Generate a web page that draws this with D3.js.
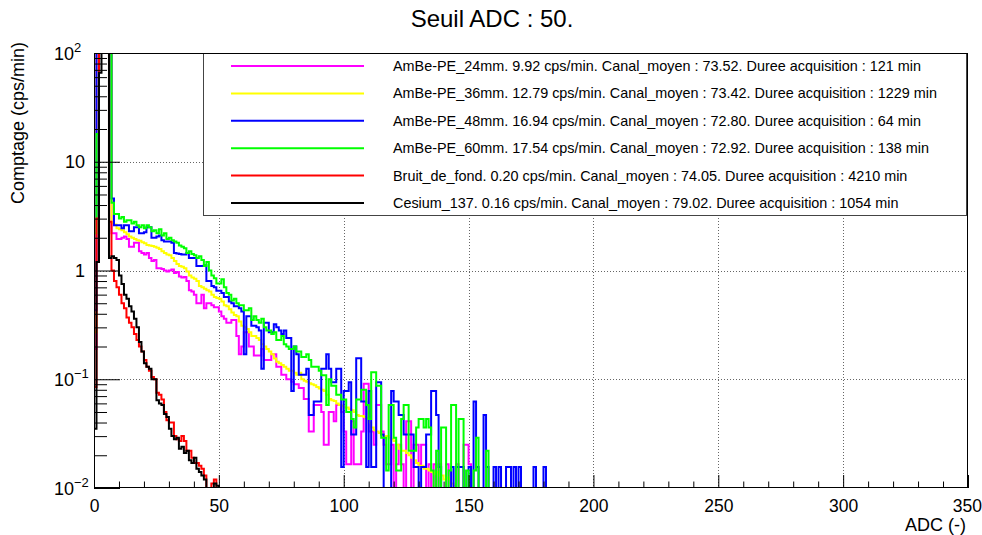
<!DOCTYPE html>
<html><head><meta charset="utf-8">
<script src="https://cdn.jsdelivr.net/npm/d3@7"></script>
<style>
body{margin:0;background:#fff}
svg{display:block}
text{font-family:"Liberation Sans",Arial,Helvetica,sans-serif;fill:#000}
</style>
</head><body>
<svg id="chart" width="982" height="535"></svg>
<script>
// ---------- DATA (bin width = 1 ADC channel, bin i covers [i, i+1)) ----------
const chartTitle = "Seuil ADC : 50.";
const xAxisTitle = "ADC (-)";
const yAxisTitle = "Comptage (cps/min)";
const xTickValues = [0, 50, 100, 150, 200, 250, 300, 350];
const yTickExponents = [-2, -1, 0, 1, 2];
const seriesNames = ["AmBe-PE_24mm", "AmBe-PE_36mm", "AmBe-PE_48mm", "AmBe-PE_60mm", "Bruit_de_fond", "Cesium_137"];
const seriesColors = ["#ff00ff", "#ffff00", "#0000ff", "#00ff00", "#ff0000", "#000000"];
const legendLabels = [
  "AmBe-PE_24mm. 9.92 cps/min. Canal_moyen : 73.52. Duree acquisition : 121 min",
  "AmBe-PE_36mm. 12.79 cps/min. Canal_moyen : 73.42. Duree acquisition : 1229 min",
  "AmBe-PE_48mm. 16.94 cps/min. Canal_moyen : 72.80. Duree acquisition : 64 min",
  "AmBe-PE_60mm. 17.54 cps/min. Canal_moyen : 72.92. Duree acquisition : 138 min",
  "Bruit_de_fond. 0.20 cps/min. Canal_moyen : 74.05. Duree acquisition : 4210 min",
  "Cesium_137. 0.16 cps/min. Canal_moyen : 79.02. Duree acquisition : 1054 min"
];

const ambe24Values = [0.19, 200,200,200,200,200,200,
 2.2, 2.2, 1.95, 1.95, 2.0, 2.05, 1.95, 1.65, 1.65, 1.8,
 1.8, 1.5, 1.45, 1.4, 1.45, 1.3, 1.22, 1.25, 1.05, 1.05,
 1.03, 1.0, 0.98, 1.0, 1.02, 0.95, 0.97, 0.88, 0.86, 0.87,
 0.8, 0.66, 0.64, 0.6, 0.5, 0.5, 0.6, 0.45, 0.5, 0.5,
 0.48, 0.46, 0.46, 0.42, 0.38, 0.36, 0.33, 0.33, 0.35, 0.35,
 0.25, 0.17, 0.2, 0.27, 0.27, 0.2, 0.2, 0.165, 0.165, 0.165,
 0.19, 0.15, 0.15, 0.15, 0.17, 0.17, 0.13, 0.13, 0.11, 0.11,
 0.1, 0.1, 0.095, 0.09, 0.09, 0.083, 0.083, 0.066, 0.066, 0.033,
 0.033, 0.058, 0.058, 0.058, 0.05, 0.025, 0.025, 0.05, 0.05, 0.041,
 0.058, 0.058, 0.05, 0.033, 0.0165, 0.0165, 0.041, 0.0165, 0.0165, 0.0165,
 0.033, 0.091, 0.091, 0.033, 0.033, 0.025, 0.058, 0.058, 0.033, 0.025,
 0.0165, 0.0165, 0.025, 0.0083, 0.0165, 0.025, 0.0165, 0.0083, 0.041, 0.041,
 0.0083, 0.025, 0.025, 0.0165, 0.025, 0.025, 0.0083, 0.0165, 0.0083, 0.0165,
 0, 0.0165, 0.0083, 0, 0.0165, 0.0083, 0, 0.0083, 0.0165, 0.0083,
 0.0083, 0.025, 0.025, 0.0165];

const ambe36Values = [0.27, 200,200,200,200,200,200,
 2.75, 2.65, 2.45, 2.4, 2.35, 2.25, 2.15, 2.05, 2.0, 1.95,
 1.9, 1.88, 1.82, 1.78, 1.72, 1.7, 1.68, 1.65, 1.62, 1.58,
 1.5, 1.45, 1.4, 1.38, 1.3, 1.22, 1.15, 1.1, 1.08, 1.05,
 0.98, 0.9, 0.86, 0.84, 0.8, 0.72, 0.7, 0.68, 0.66, 0.64,
 0.6, 0.57, 0.56, 0.55, 0.52, 0.48, 0.47, 0.44, 0.41, 0.39,
 0.38, 0.34, 0.31, 0.3, 0.29, 0.27, 0.25, 0.25, 0.24, 0.23,
 0.21, 0.2, 0.19, 0.18, 0.17, 0.155, 0.145, 0.14, 0.135, 0.13,
 0.125, 0.12, 0.12, 0.115, 0.11, 0.115, 0.1, 0.097, 0.095, 0.092,
 0.09, 0.088, 0.085, 0.082, 0.08, 0.078, 0.072, 0.066, 0.064, 0.063,
 0.06, 0.058, 0.057, 0.055, 0.055, 0.053, 0.052, 0.05, 0.047, 0.046,
 0.046, 0.045, 0.044, 0.04, 0.036, 0.034, 0.033, 0.032, 0.031, 0.03,
 0.03, 0.029, 0.028, 0.027, 0.025, 0.023, 0.022, 0.022, 0.021, 0.02,
 0.019, 0.018, 0.017, 0.016, 0.016, 0.015, 0.015, 0.0145, 0.014, 0.0135,
 0.014, 0.013, 0.013, 0.012, 0.0125, 0.012, 0.011, 0.0105, 0.01, 0.009];

const ambe48Values = [0.43, 200,200,200,200,200,200,
 4.6, 2.6, 2.6, 2.6, 2.45, 2.6, 2.6, 2.3, 2.3, 2.5,
 2.5, 2.2, 2.2, 2.25, 2.5, 2.5, 2.0, 2.0, 2.05, 2.1,
 1.9, 1.85, 1.85, 1.85, 1.8, 1.45, 1.43, 1.42, 1.4, 1.4,
 1.45, 1.3, 1.3, 1.3, 1.1, 1.1, 1.1, 1.12, 0.8, 0.8,
 0.72, 0.7, 0.65, 0.65, 0.62, 0.57, 0.57, 0.52, 0.5, 0.47,
 0.47, 0.45, 0.42, 0.17, 0.38, 0.38, 0.31, 0.31, 0.3, 0.28,
 0.125, 0.33, 0.33, 0.27, 0.27, 0.32, 0.3, 0.28, 0.26, 0.28,
 0.24, 0.24, 0.078, 0.2, 0.17, 0.11, 0.11, 0.11, 0.125, 0.047,
 0.047, 0.0625, 0.0625, 0.0625, 0.125, 0.125, 0.17, 0.125, 0.094, 0.094,
 0.125, 0.125, 0.0156, 0.078, 0.078, 0.094, 0.031, 0.031, 0.156, 0.156,
 0.0625, 0.0625, 0.0156, 0.078, 0.0156, 0.0156, 0.094, 0.094, 0.031, 0,
 0, 0, 0.078, 0.0625, 0.0625, 0.047, 0.047, 0.031, 0.031, 0.031,
 0.031, 0.0156, 0.0156, 0, 0.0156, 0.0156, 0.031, 0.031, 0.078, 0.078,
 0.047, 0.0156, 0, 0, 0, 0, 0.0156, 0, 0.0156, 0.0156,
 0.0156, 0, 0, 0.0156, 0, 0.0625, 0.0156, 0, 0, 0.047,
 0.0156, 0, 0, 0.0156, 0, 0.0156, 0, 0, 0.0156, 0.0156,
 0, 0.0156, 0, 0.0156, 0, 0, 0, 0, 0, 0.0156,
 0, 0, 0, 0.0156];

const ambe60Values = [2.2, 18, 200,200,200,200,200,
 4.2, 3.3, 3.3, 3.0, 3.1, 2.8, 2.9, 2.9, 2.7, 2.8,
 2.6, 2.5, 2.6, 2.45, 2.6, 2.5, 2.3, 2.35, 2.2, 2.4,
 2.1, 2.2, 1.95, 2.0, 1.9, 1.85, 1.8, 1.7, 1.65, 1.6,
 1.45, 1.5, 1.42, 1.38, 1.3, 1.35, 1.25, 1.1, 1.2, 1.0,
 0.9, 0.85, 0.76, 0.76, 0.83, 0.7, 0.62, 0.6, 0.53, 0.55,
 0.5, 0.48, 0.48, 0.43, 0.43, 0.45, 0.35, 0.38, 0.35, 0.33,
 0.36, 0.3, 0.28, 0.28, 0.26, 0.27, 0.23, 0.23, 0.25, 0.21,
 0.2, 0.19, 0.19, 0.2, 0.18, 0.18, 0.16, 0.16, 0.17, 0.15,
 0.13, 0.13, 0.13, 0.12, 0.109, 0.109, 0.058, 0.1, 0.087, 0.087,
 0.072, 0.072, 0.065, 0.065, 0.05, 0.05, 0.043, 0.036, 0.065, 0.065,
 0.08, 0.08, 0.058, 0.043, 0.116, 0.116, 0.087, 0.087, 0.029, 0.029,
 0.0145, 0.058, 0.058, 0.029, 0.0145, 0.0145, 0.043, 0.058, 0.058, 0.022,
 0.022, 0.022, 0.036, 0.043, 0.043, 0.036, 0.043, 0.036, 0.0145, 0.0072,
 0.022, 0.0072, 0.036, 0.036, 0.0072, 0.0145, 0.058, 0.058, 0.0072, 0.043,
 0.043, 0.0072, 0.0145, 0.0072, 0.0072, 0.0145, 0.029, 0.0072, 0.0072, 0,
 0.022, 0];

const bruitValues = [0.085, 3.0, 200, 200, 200, 200, 2.8,
 1.0, 0.8, 0.7, 0.6, 0.5, 0.45, 0.37, 0.33, 0.3, 0.26,
 0.23, 0.2, 0.18, 0.15, 0.13, 0.12, 0.105, 0.1, 0.075, 0.072,
 0.065, 0.05, 0.042, 0.04, 0.04, 0.03, 0.028, 0.027, 0.03, 0.027,
 0.022, 0.022, 0.019, 0.017, 0.017, 0.016, 0.015, 0.013, 0.01, 0.009,
 0.011, 0.012, 0.009, 0];

const cesiumValues = [0.035, 1.2, 66, 200, 200, 200, 1.3,
 1.35, 1.3, 1.25, 0.9, 0.75, 0.6, 0.55, 0.47, 0.42, 0.36,
 0.3, 0.22, 0.18, 0.14, 0.13, 0.125, 0.1, 0.1, 0.064, 0.06,
 0.058, 0.048, 0.045, 0.035, 0.03, 0.028, 0.029, 0.023, 0.024, 0.021,
 0.022, 0.018, 0.017, 0.019, 0.015, 0.014, 0.013, 0.012, 0.0095, 0.009,
 0.0095, 0.011, 0.0105, 0];

const seriesValues = [ambe24Values, ambe36Values, ambe48Values, ambe60Values, bruitValues, cesiumValues];

// ---------- LAYOUT ----------
const W = 982, H = 535;
const frame = {left: 94, right: 968, top: 53, bottom: 488};
const svg = d3.select("#chart");

const x = d3.scaleLinear().domain([0, 350]).range([frame.left, frame.right]);
const y = d3.scaleLog().domain([0.01, 100]).range([frame.bottom, frame.top]);

// clip
svg.append("defs").append("clipPath").attr("id", "plotClip")
  .append("rect").attr("x", frame.left).attr("y", frame.top)
  .attr("width", frame.right - frame.left).attr("height", frame.bottom - frame.top);

// grid
const gridG = svg.append("g").attr("stroke", "#666").attr("stroke-width", 1).attr("stroke-dasharray", "1,2");
xTickValues.filter(v => v > 0 && v < 350).forEach(v => {
  const px = Math.round(x(v)) + 0.5;
  gridG.append("line").attr("x1", px).attr("x2", px).attr("y1", frame.top).attr("y2", frame.bottom);
});
yTickExponents.filter(e => e > -2 && e < 2).forEach(e => {
  const py = Math.round(y(Math.pow(10, e))) + 0.5;
  gridG.append("line").attr("x1", frame.left).attr("x2", frame.right).attr("y1", py).attr("y2", py);
});

// histograms
const clampV = v => (v <= 0 ? 1e-4 : Math.min(v, 1e4));
const line = d3.line().x(d => x(d[0])).y(d => y(d[1])).curve(d3.curveStepAfter);
const histG = svg.append("g").attr("clip-path", "url(#plotClip)");
seriesValues.forEach((vals, si) => {
  const pts = [[0, 1e-4]];
  vals.forEach((v, i) => pts.push([i, clampV(v)]));
  pts.push([vals.length, clampV(vals[vals.length - 1])]);
  pts.push([vals.length, 1e-4]);
  histG.append("path").datum(pts)
    .attr("d", line)
    .attr("fill", "none")
    .attr("stroke", seriesColors[si])
    .attr("stroke-width", 2)
    .attr("stroke-linejoin", "miter");
});

// legend
const leg = {x: 203.5, y: 53.5, w: 763, h: 162};
svg.append("rect").attr("x", leg.x).attr("y", leg.y).attr("width", leg.w).attr("height", leg.h)
  .attr("fill", "#fff").attr("stroke", "#444").attr("stroke-width", 1);
const rowY = i => 66 + i * 27.4;
seriesNames.forEach((n, i) => {
  svg.append("line").attr("x1", 231).attr("x2", 364).attr("y1", rowY(i)).attr("y2", rowY(i))
    .attr("stroke", seriesColors[i]).attr("stroke-width", 2);
  svg.append("text").attr("x", 393).attr("y", rowY(i) + 5).attr("font-size", 14.4).text(legendLabels[i]);
});

// frame
svg.append("rect").attr("x", frame.left + 0.5).attr("y", frame.top + 0.5)
  .attr("width", frame.right - frame.left - 1).attr("height", frame.bottom - frame.top - 1)
  .attr("fill", "none").attr("stroke", "#000").attr("stroke-width", 1);

// x axis ticks (inward)
const xMinor = d3.range(0, 351, 10).filter(v => v % 50 !== 0);
const xAxisMajor = d3.axisBottom(x).tickValues(xTickValues).tickSize(-13).tickPadding(12).tickFormat(d3.format("d"));
const xAxisMinor = d3.axisBottom(x).tickValues(xMinor).tickSize(-6.5).tickFormat("");
const gx = svg.append("g").attr("transform", `translate(0,${frame.bottom})`).call(xAxisMajor);
const gx2 = svg.append("g").attr("transform", `translate(0,${frame.bottom})`).call(xAxisMinor);
[gx, gx2].forEach(g => { g.select(".domain").remove(); g.selectAll("line").attr("stroke", "#000"); });
gx.selectAll("text").attr("font-size", 17.5).attr("font-family", "Liberation Sans, Arial, sans-serif").attr("fill", "#000");
// keep the last label inside the window
gx.selectAll(".tick").filter(d => d === 350).select("text").attr("text-anchor", "end").attr("x", 13.5);

// y axis ticks (inward)
const yMajor = yTickExponents.map(e => Math.pow(10, e));
const yMinor = [];
yTickExponents.slice(0, -1).forEach(e => { for (let k = 2; k <= 9; k++) yMinor.push(k * Math.pow(10, e)); });
const yAxisMajor = d3.axisLeft(y).tickValues(yMajor).tickSize(-26).tickFormat("");
const yAxisMinor = d3.axisLeft(y).tickValues(yMinor).tickSize(-13).tickFormat("");
const gy = svg.append("g").attr("transform", `translate(${frame.left},0)`).call(yAxisMajor);
const gy2 = svg.append("g").attr("transform", `translate(${frame.left},0)`).call(yAxisMinor);
[gy, gy2].forEach(g => { g.select(".domain").remove(); g.selectAll("line").attr("stroke", "#000"); });

// y tick labels
yTickExponents.forEach(e => {
  const py = y(Math.pow(10, e));
  if (e === 0 || e === 1) {
    svg.append("text").attr("x", 85).attr("y", py + 6.5).attr("text-anchor", "end")
      .attr("font-size", 18).text(e === 0 ? "1" : "10");
  } else {
    const t = svg.append("text").attr("x", 54).attr("y", py + 6.5).attr("font-size", 18);
    t.append("tspan").text("10");
    t.append("tspan").attr("font-size", 13).attr("dy", -8).text(String(e).replace("-", "\u2212"));
  }
});

// titles
svg.append("text").attr("x", 492).attr("y", 27).attr("text-anchor", "middle").attr("font-size", 24).text(chartTitle);
svg.append("text").attr("x", 966).attr("y", 531).attr("text-anchor", "end").attr("font-size", 18).text(xAxisTitle);
svg.append("text").attr("transform", "translate(24,42) rotate(-90)").attr("text-anchor", "end")
  .attr("font-size", 18).text(yAxisTitle);
</script>
</body></html>
